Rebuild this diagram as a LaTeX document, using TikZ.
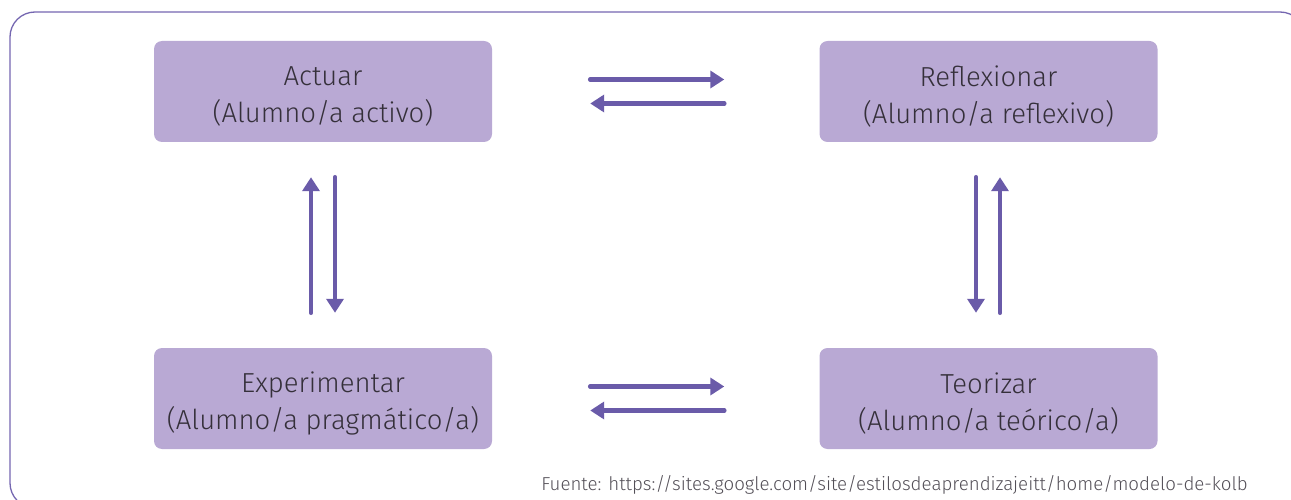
\documentclass[tikz,border=0pt]{standalone}
\usepackage{fontspec}
\setmainfont{Fira Sans}[UprightFont={* Light}]
\usetikzlibrary{arrows.meta,calc}
\definecolor{boxfill}{HTML}{B9A9D4}
\definecolor{arrowcol}{HTML}{6A5BA9}
\definecolor{framecol}{HTML}{7466B0}
\definecolor{txt}{HTML}{35303A}
\begin{document}
\begin{tikzpicture}[x=1pt,y=-1pt,
  stage/.style={fill=boxfill, rounded corners=8pt, minimum width=338pt, minimum height=101pt,
    inner sep=0pt},
  stagetext/.style={align=center, text=txt, font=\fontsize{27.5}{37}\selectfont, inner sep=0pt},
  flow/.style={draw=arrowcol, line width=4.5pt, line cap=round,
    -{Triangle[length=14pt,width=17pt]}}
]
\useasboundingbox (0,0) rectangle (1291,500);
\begin{scope}
\clip (0,0) rectangle (1291,500);
\draw[framecol, line width=1.3pt, rounded corners=25pt] (10,12) rectangle (1305,508);
\end{scope}
\node[stage] (a) at (323,91.5) {};
\node[stage] (r) at (988.5,91.5) {};
\node[stage] (e) at (323,398.5) {};
\node[stage] (t) at (988.5,398.5) {};
\node[stagetext] (at) at ([yshift=-5pt]a.center) {Actuar\\(Alumno/a activo)};
\node[stagetext] (rt) at ([yshift=-5pt]r.center) {Reflexionar\\(Alumno/a reflexivo)};
\node[stagetext] (et) at ([yshift=-5pt]e.center) {Experimentar\\(Alumno/a pragmático/a)};
\node[stagetext] (tt) at ([yshift=-5pt]t.center) {Teorizar\\(Alumno/a teórico/a)};
% top horizontal
\draw[flow] ([xshift=98pt,yshift=12pt]a.east) -- ([xshift=-95pt,yshift=12pt]r.west);
\draw[flow] ([xshift=-95pt,yshift=-12pt]r.west) -- ([xshift=98pt,yshift=-12pt]a.east);
% bottom horizontal
\draw[flow] ([xshift=98pt,yshift=12pt]e.east) -- ([xshift=-95pt,yshift=12pt]t.west);
\draw[flow] ([xshift=-95pt,yshift=-12pt]t.west) -- ([xshift=98pt,yshift=-12pt]e.east);
% left vertical
\draw[flow] ([xshift=-12pt,yshift=35pt]e.north) -- ([xshift=-12pt,yshift=-35pt]a.south);
\draw[flow] ([xshift=12pt,yshift=-35pt]a.south) -- ([xshift=12pt,yshift=35pt]e.north);
% right vertical
\draw[flow] ([xshift=-12.5pt,yshift=-35pt]r.south) -- ([xshift=-12.5pt,yshift=35pt]t.north);
\draw[flow] ([xshift=11.5pt,yshift=35pt]t.north) -- ([xshift=11.5pt,yshift=-35pt]r.south);
\node[anchor=base east, text=txt!85, font=\fontsize{18.7}{20}\selectfont, inner sep=0pt] (src) at (1248,490)
  {Fuente: https://sites.google.com/site/estilosdeaprendizajeitt/home/modelo-de-kolb};
\end{tikzpicture}
\end{document}
